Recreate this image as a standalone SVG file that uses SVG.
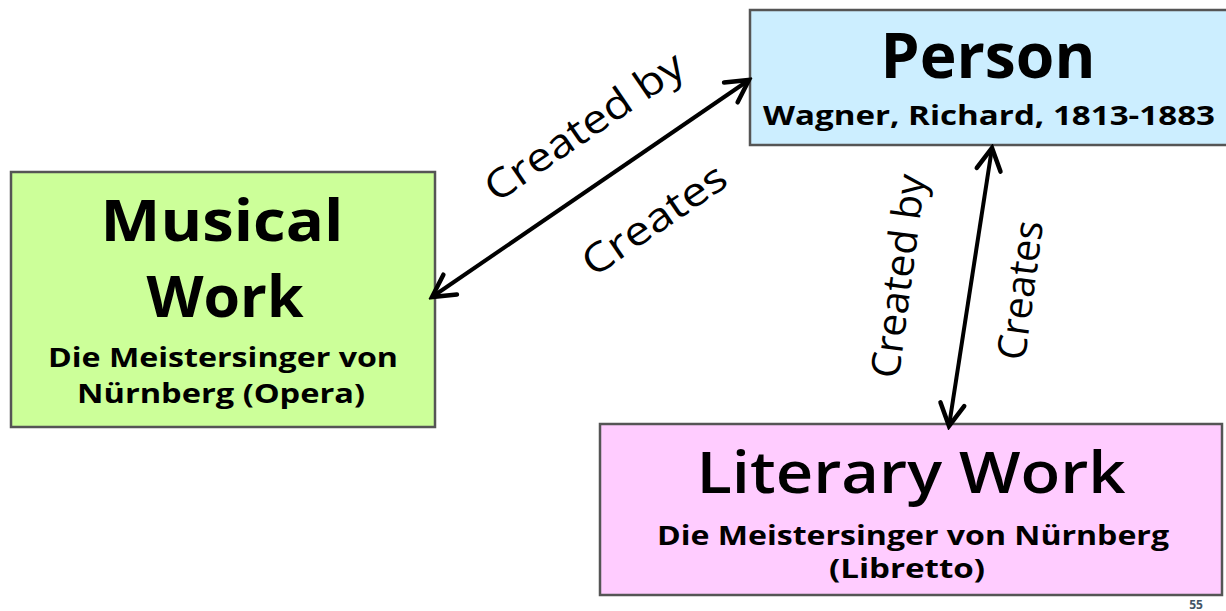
<svg xmlns="http://www.w3.org/2000/svg" width="1226" height="611" viewBox="0 0 1226 611">
<defs>
<style>
.box{stroke:#555;stroke-width:2.5}
.t{font-family:"Open Sans",Lato,"Liberation Sans",sans-serif;fill:#000;text-anchor:middle}
.b{font-weight:bold}
.lbl{font-family:"Open Sans",Lato,"Liberation Sans",sans-serif;font-size:40px;fill:#000;text-anchor:middle}
.conn{stroke:#000;stroke-width:4;fill:none}
</style>
<marker id="ah" markerUnits="userSpaceOnUse" viewBox="0 0 30 30" refX="26" refY="15" markerWidth="30" markerHeight="30" orient="auto-start-reverse">
<path d="M4,3 L26,15 L4,27" fill="none" stroke="#000" stroke-width="4.5" stroke-linecap="round" stroke-linejoin="miter"/>
</marker>
</defs>
<rect width="1226" height="611" fill="#fff"/>
<g id="person">
<rect class="box" x="750" y="10" width="480" height="135" fill="#cceeff"/>
<text class="t b" x="988" y="78" font-size="62" textLength="215" lengthAdjust="spacingAndGlyphs">Person</text>
<text class="t b" x="989" y="125" font-size="26" textLength="452" lengthAdjust="spacingAndGlyphs">Wagner, Richard, 1813-1883</text>
</g>
<g id="musical-work">
<rect class="box" x="11" y="172" width="424" height="255" fill="#ccff99"/>
<text class="t b" x="222" y="241" font-size="58" textLength="243" lengthAdjust="spacingAndGlyphs">Musical</text>
<text class="t b" x="225" y="317" font-size="58" textLength="157" lengthAdjust="spacingAndGlyphs">Work</text>
<text class="t b" x="223" y="367" font-size="26" textLength="350" lengthAdjust="spacingAndGlyphs">Die Meistersinger von</text>
<text class="t b" x="221" y="403" font-size="26" textLength="288" lengthAdjust="spacingAndGlyphs">Nürnberg  (Opera)</text>
</g>
<g id="literary-work">
<rect class="box" x="600" y="424" width="622" height="171" fill="#ffccff"/>
<text class="t" x="911" y="493" font-size="58" font-weight="600" textLength="429" lengthAdjust="spacingAndGlyphs">Literary Work</text>
<text class="t b" x="913" y="545" font-size="26" textLength="512" lengthAdjust="spacingAndGlyphs">Die Meistersinger von Nürnberg</text>
<text class="t b" x="907" y="578" font-size="26" textLength="156" lengthAdjust="spacingAndGlyphs">(Libretto)</text>
</g>
<g id="connectors">
<line class="conn" x1="432" y1="297" x2="749" y2="80" marker-start="url(#ah)" marker-end="url(#ah)"/>
<line class="conn" x1="992" y1="148" x2="949" y2="426" marker-start="url(#ah)" marker-end="url(#ah)"/>
<text class="lbl" transform="translate(592,138) rotate(-34.4)" textLength="232" lengthAdjust="spacingAndGlyphs">Created by</text>
<text class="lbl" transform="translate(662,231) rotate(-34.4)" textLength="166" lengthAdjust="spacingAndGlyphs">Creates</text>
<text class="lbl" transform="translate(912,278) rotate(-82.5)" textLength="205" lengthAdjust="spacingAndGlyphs">Created by</text>
<text class="lbl" transform="translate(1034,292) rotate(-82.5)" textLength="140" lengthAdjust="spacingAndGlyphs">Creates</text>
</g>
<text x="1196" y="609" font-family="'Open Sans','Liberation Sans',sans-serif" font-size="12" font-weight="bold" fill="#445566" text-anchor="middle">55</text>
</svg>
